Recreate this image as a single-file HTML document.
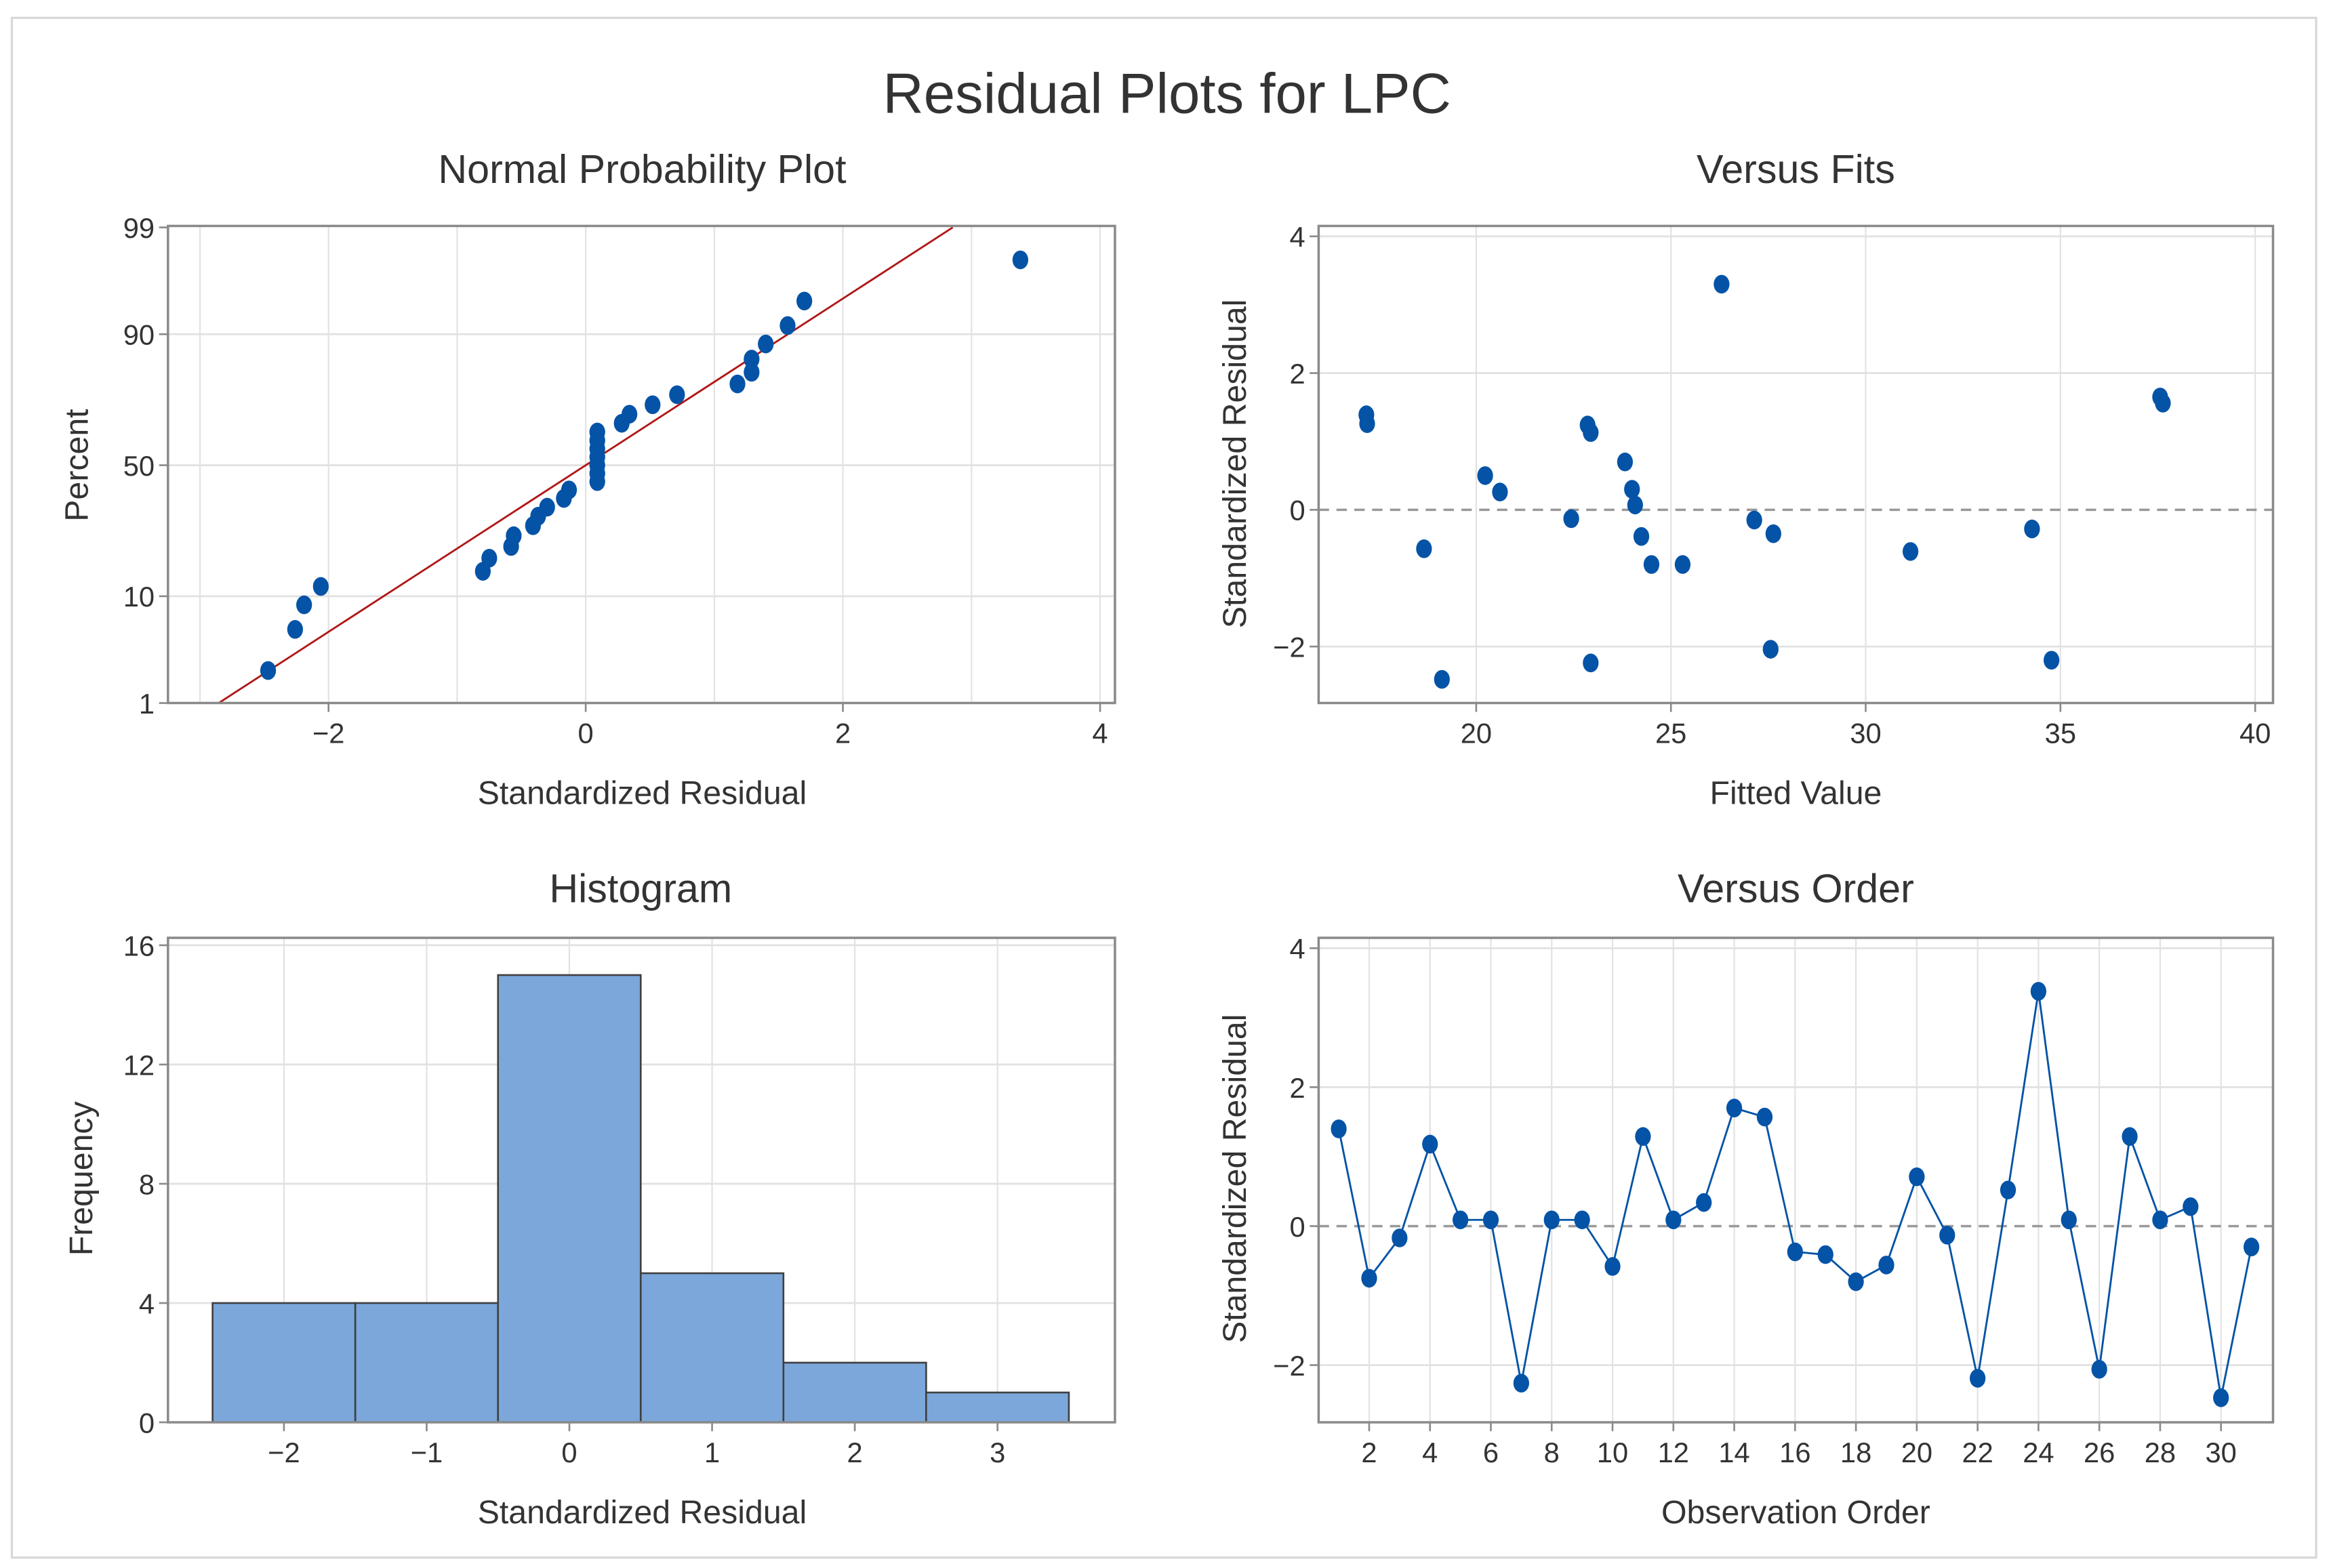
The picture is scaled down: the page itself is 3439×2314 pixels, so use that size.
<!DOCTYPE html>
<html><head><meta charset="utf-8"><style>
html,body{margin:0;padding:0;background:#fff;}
svg{display:block;font-family:"Liberation Sans",sans-serif;}
</style></head><body>
<svg id="chart" width="3439" height="2314" viewBox="0 0 1568 1055" xmlns="http://www.w3.org/2000/svg">
<rect x="0" y="0" width="1568" height="1055" fill="#fff"/>
<rect x="8" y="12" width="1550" height="1036" fill="none" stroke="#d8d8d8" stroke-width="1.5"/>
<text x="785" y="76" font-size="38" text-anchor="middle" fill="#333">Residual Plots for LPC</text>
<text x="432" y="123" font-size="27" text-anchor="middle" fill="#333">Normal Probability Plot</text>
<text x="1208" y="123" font-size="27" text-anchor="middle" fill="#333">Versus Fits</text>
<text x="431" y="607" font-size="27" text-anchor="middle" fill="#333">Histogram</text>
<text x="1208" y="607" font-size="27" text-anchor="middle" fill="#333">Versus Order</text>
<g id="npp"></g>
<g id="fits"></g>
<g id="hist"></g>
<g id="order"></g>
</svg>
<script>
// Residuals in observation order
const orderResid = [1.40,-0.75,-0.17,1.18,0.09,0.09,-2.26,0.09,0.09,-0.58,1.29,0.09,0.34,1.70,1.57,-0.37,-0.41,-0.80,-0.56,0.71,-0.13,-2.19,0.52,3.38,0.09,-2.06,1.29,0.09,0.28,-2.47,-0.30];
const orderTicks = [2,4,6,8,10,12,14,16,18,20,22,24,26,28,30];
// Versus fits
const fitValues = [17.18,17.2,18.66,19.12,20.23,20.61,22.44,22.86,22.94,22.94,23.82,24.0,24.08,24.24,24.5,25.3,26.3,27.14,27.63,27.56,31.15,34.27,34.77,37.56,37.63];
const fitResid = [1.39,1.26,-0.57,-2.48,0.5,0.26,-0.13,1.24,1.13,-2.24,0.70,0.30,0.07,-0.39,-0.80,-0.80,3.30,-0.15,-0.35,-2.04,-0.61,-0.28,-2.2,1.65,1.56];
const fitTicks = [20,25,30,35,40];
// Histogram
const binCenters = [-2,-1,0,1,2,3];
const binCounts = [4,4,15,5,2,1];
const histYTicks = [0,4,8,12,16];
// Normal probability plot
const nppXTicks = [-2,0,2,4];
const nppYTicks = [1,10,50,90,99];
const fitMean = 0.0, fitSd = 1.227;
const residYTicks = [-2,0,2,4];

const NS = "http://www.w3.org/2000/svg";
function mk(parent, tag, attrs, text){const e=document.createElementNS(NS,tag);for(const k in attrs)e.setAttribute(k,attrs[k]);if(text!==undefined)e.textContent=text;parent.appendChild(e);return e;}
function lin(d0,d1,r0,r1){return v=>r0+(v-d0)*(r1-r0)/(d1-d0);}
function invNorm(p){ // Acklam
 const a=[-39.6968302866538,220.946098424521,-275.928510446969,138.357751867269,-30.6647980661472,2.50662827745924];
 const b=[-54.4760987982241,161.585836858041,-155.698979859887,66.8013118877197,-13.2806815528857];
 const c=[-0.00778489400243029,-0.322396458041136,-2.40075827716184,-2.54973253934373,4.37466414146497,2.93816398269878];
 const d=[0.00778469570904146,0.32246712907004,2.445134137143,3.75440866190742];
 let q,r;
 if(p<0.02425){q=Math.sqrt(-2*Math.log(p));return (((((c[0]*q+c[1])*q+c[2])*q+c[3])*q+c[4])*q+c[5])/((((d[0]*q+d[1])*q+d[2])*q+d[3])*q+1);}
 if(p>1-0.02425){q=Math.sqrt(-2*Math.log(1-p));return -(((((c[0]*q+c[1])*q+c[2])*q+c[3])*q+c[4])*q+c[5])/((((d[0]*q+d[1])*q+d[2])*q+d[3])*q+1);}
 q=p-0.5;r=q*q;return (((((a[0]*r+a[1])*r+a[2])*r+a[3])*r+a[4])*r+a[5])*q/(((((b[0]*r+b[1])*r+b[2])*r+b[3])*r+b[4])*r+1);
}
const GRID="#e2e2e2", FRAME="#8a8a8a", TXT="#333", BLUE="#0453a6";

function frame(g,x0,y0,x1,y1){
 const r=mk(g,'rect',{x:x0,y:y0,width:x1-x0,height:y1-y0,fill:'none',stroke:FRAME,'stroke-width':1.6});
 
 
}
function vgrid(g,x,y0,y1){const l=mk(g,'line',{x1:x,x2:x,y1:y0,y2:y1,stroke:GRID,'stroke-width':1});
 
 }
function hgrid(g,y,x0,x1){const l=mk(g,'line',{x1:x0,x2:x1,y1:y,y2:y,stroke:GRID,'stroke-width':1.3});
 
 }
function xtick(g,x,y,label){
 const l=mk(g,'line',{x1:x,x2:x,y1:y,y2:y+6,stroke:FRAME,'stroke-width':1.2});
 
 
 const t=mk(g,'text',{x:x,y:y+27,'font-size':19,'text-anchor':'middle',fill:TXT},label);
 
 
}
function ytick(g,x,y,label){
 const l=mk(g,'line',{x1:x-6,x2:x,y1:y,y2:y,stroke:FRAME,'stroke-width':1.2});
 
 
 const t=mk(g,'text',{x:x-9,y:y+7,'font-size':19,'text-anchor':'end',fill:TXT},label);
 
 
}
function xtitle(g,x,y,s){const t=mk(g,'text',{x:x,y:y,'font-size':22,'text-anchor':'middle',fill:TXT},s);
 
 }
function ytitle(g,x,y,s){const t=mk(g,'text',{x:0,y:0,'font-size':22,'text-anchor':'middle',fill:TXT,transform:`translate(${x},${y}) rotate(-90)`},s);
 
 }
function dot(g,x,y){const e=mk(g,'ellipse',{cx:x,cy:y,rx:5.3,ry:6.3,fill:BLUE});
 
 }
function fmt(v){return v<0?'\u2212'+(-v):String(v);}

// ---------- Normal probability plot ----------
(function(){
 const g=document.getElementById('npp');
 const X0=113,X1=750,Y0=152,Y1=473;
 const sx=lin(0,2,394,567);
 const zy=lin(0,2.326,313,153);
 const sy=p=>zy(invNorm(p/100));
 for(let v=-3;v<=4;v++) vgrid(g,sx(v),Y0,Y1);
 [10,50,90].forEach(p=>hgrid(g,sy(p),X0,X1));
 // fitted line
 const pLo=0.01,pHi=0.99;
 const xa=fitMean+fitSd*invNorm(pLo), xb=fitMean+fitSd*invNorm(pHi);
 const ln=mk(g,'line',{x1:sx(xa),y1:zy(invNorm(pLo)),x2:sx(xb),y2:zy(invNorm(pHi)),stroke:'#b01818','stroke-width':1.3});
 
 
 const sorted=orderResid.slice().sort((a,b)=>a-b);
 const n=sorted.length;
 sorted.forEach((v,i)=>{const p=(i+1-0.3)/(n+0.4);dot(g,sx(v),zy(invNorm(p)));});
 frame(g,X0,Y0,X1,Y1);
 nppXTicks.forEach(v=>xtick(g,sx(v),Y1,fmt(v)));
 nppYTicks.forEach(p=>ytick(g,X0,sy(p),String(p)));
 xtitle(g,432,541,'Standardized Residual');
 ytitle(g,59,313,'Percent');
})();

// ---------- Versus fits ----------
(function(){
 const g=document.getElementById('fits');
 const X0=887,X1=1529,Y0=152,Y1=473;
 const sx=lin(20,40,993,1517);
 const sy=lin(0,4,343,159);
 fitTicks.forEach(v=>vgrid(g,sx(v),Y0,Y1));
 [-2,2,4].forEach(v=>hgrid(g,sy(v),X0,X1));
 const z=mk(g,'line',{x1:X0,x2:X1,y1:sy(0),y2:sy(0),stroke:'#999','stroke-width':1.6,'stroke-dasharray':'7,5'});
 
 
 fitValues.forEach((f,i)=>dot(g,sx(f),sy(fitResid[i])));
 frame(g,X0,Y0,X1,Y1);
 fitTicks.forEach(v=>xtick(g,sx(v),Y1,String(v)));
 residYTicks.forEach(v=>ytick(g,X0,sy(v),fmt(v)));
 xtitle(g,1208,541,'Fitted Value');
 ytitle(g,838,312,'Standardized Residual');
})();

// ---------- Histogram ----------
(function(){
 const g=document.getElementById('hist');
 const X0=113,X1=750,Y0=631,Y1=957;
 const sx=lin(0,1,383,479);
 const sy=lin(0,16,957,636);
 binCenters.forEach(v=>vgrid(g,sx(v),Y0,Y1));
 [4,8,12,16].forEach(v=>hgrid(g,sy(v),X0,X1));
 binCenters.forEach((c,i)=>{
  const b=mk(g,'rect',{x:sx(c-0.5),y:sy(binCounts[i]),width:sx(c+0.5)-sx(c-0.5),height:sy(0)-sy(binCounts[i]),fill:'#7ba7da',stroke:'#404040','stroke-width':1.2});
  
  
 });
 frame(g,X0,Y0,X1,Y1);
 binCenters.forEach(v=>xtick(g,sx(v),Y1,fmt(v)));
 histYTicks.forEach(v=>ytick(g,X0,sy(v),String(v)));
 xtitle(g,432,1025,'Standardized Residual');
 ytitle(g,62,793,'Frequency');
})();

// ---------- Versus order ----------
(function(){
 const g=document.getElementById('order');
 const X0=887,X1=1529,Y0=631,Y1=957;
 const sx=lin(2,30,921,1494);
 const sy=lin(0,4,825,638);
 orderTicks.forEach(v=>vgrid(g,sx(v),Y0,Y1));
 [-2,2,4].forEach(v=>hgrid(g,sy(v),X0,X1));
 const z=mk(g,'line',{x1:X0,x2:X1,y1:sy(0),y2:sy(0),stroke:'#999','stroke-width':1.6,'stroke-dasharray':'7,5'});
 
 
 const pts=orderResid.map((v,i)=>sx(i+1)+','+sy(v)).join(' ');
 const pl=mk(g,'polyline',{points:pts,fill:'none',stroke:BLUE,'stroke-width':1.3});
 
 
 orderResid.forEach((v,i)=>dot(g,sx(i+1),sy(v)));
 frame(g,X0,Y0,X1,Y1);
 orderTicks.forEach(v=>xtick(g,sx(v),Y1,String(v)));
 residYTicks.forEach(v=>ytick(g,X0,sy(v),fmt(v)));
 xtitle(g,1208,1025,'Observation Order');
 ytitle(g,838,793,'Standardized Residual');
})();
</script>
</body></html>
